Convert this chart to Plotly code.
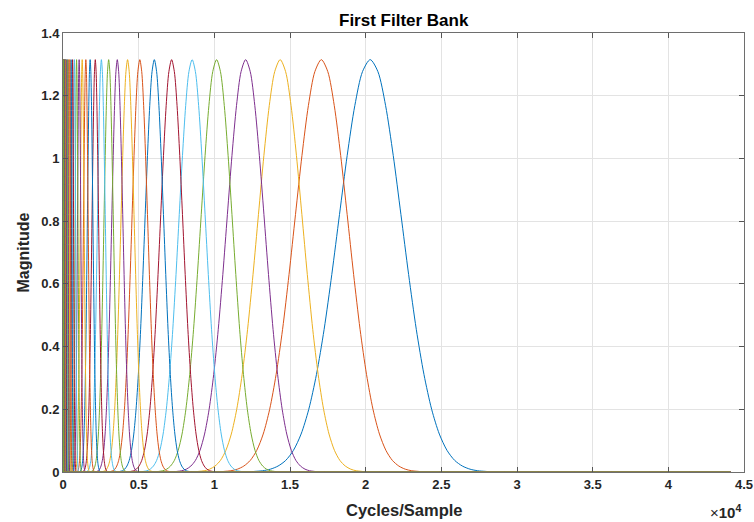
import plotly.graph_objects as go

# Center frequencies of the filters (read from the peaks), highest first
centers = [20300, 17070, 14350, 12070, 10150, 8535, 7177, 6035, 5075, 4267,
           3588, 3017, 2537, 2134, 1794, 1509, 1269, 1067, 897, 754,
           634, 533, 449, 377, 317, 267, 224, 189, 159, 133,
           112, 94, 79, 67, 56, 47, 40, 33, 28, 24]

# Filter shape read from the largest filter: frequency / center -> magnitude
profile_ratio = [0.550, 0.575, 0.600, 0.625, 0.650, 0.675, 0.700, 0.725, 0.750, 0.775, 0.800,
                 0.825, 0.850, 0.875, 0.900, 0.925, 0.950, 0.975, 1.000,
                 1.025, 1.050, 1.075, 1.100, 1.125, 1.150, 1.175, 1.200,
                 1.225, 1.250, 1.275, 1.300, 1.325, 1.350, 1.375, 1.400, 1.425, 1.450]
profile_mag = [0.000, 0.000, 0.000, 0.002, 0.004, 0.009, 0.019, 0.037, 0.069, 0.121, 0.200,
               0.311, 0.455, 0.630, 0.821, 1.009, 1.169, 1.277, 1.315,
               1.277, 1.169, 1.009, 0.821, 0.630, 0.455, 0.311, 0.200,
               0.121, 0.069, 0.037, 0.019, 0.009, 0.004, 0.002, 0.000, 0.000, 0.000]

freq_max = 44100

x_tick_vals = [0, 5000, 10000, 15000, 20000, 25000, 30000, 35000, 40000, 45000]
x_tick_text = ["0", "0.5", "1", "1.5", "2", "2.5", "3", "3.5", "4", "4.5"]
y_tick_vals = [0, 0.2, 0.4, 0.6, 0.8, 1.0, 1.2, 1.4]
y_tick_text = ["0", "0.2", "0.4", "0.6", "0.8", "1", "1.2", "1.4"]

colors = ['#0072BD', '#D95319', '#EDB120', '#7E2F8E', '#77AC30', '#4DBEEE', '#A2142F']

fig = go.Figure()
for i, c in enumerate(centers):
    xs = [0] + [r * c for r in profile_ratio] + [freq_max]
    ys = [0] + profile_mag + [0]
    fig.add_trace(go.Scatter(
        x=xs, y=ys, mode='lines',
        line=dict(color=colors[i % 7], width=1.0, shape='spline', smoothing=0.8),
        showlegend=False, hoverinfo='skip'))

font_main = "Liberation Sans, Arial, Helvetica, sans-serif"

axis_common = dict(
    showline=True, linecolor='#6e6e6e', linewidth=1, mirror='ticks',
    ticks='inside', ticklen=5, tickcolor='#555555', tickwidth=1,
    showgrid=True, gridcolor='#e3e3e3', gridwidth=1, zeroline=False,
    ticklabeloverflow='allow',
    tickfont=dict(family=font_main, size=13, color='#262626'),
)

fig.update_layout(
    width=754, height=522,
    margin=dict(l=63, r=10, t=33, b=50, autoexpand=False),
    paper_bgcolor='white', plot_bgcolor='white',
    xaxis=dict(range=[0, 45000], tickvals=x_tick_vals,
               ticktext=["<b>%s</b>" % t for t in x_tick_text], **axis_common),
    yaxis=dict(range=[0, 1.4], tickvals=y_tick_vals,
               ticktext=["<b>%s</b>" % t for t in y_tick_text], **axis_common),
    font=dict(family=font_main),
    annotations=[
        dict(text="<b>First Filter Bank</b>", xref='paper', yref='paper', x=0.5, y=1.0,
             xanchor='center', yanchor='middle', yshift=13, showarrow=False,
             font=dict(size=17, color='#000000', family=font_main)),
        dict(text="<b>Cycles/Sample</b>", xref='paper', yref='paper', x=0.5, y=0,
             xanchor='center', yanchor='middle', yshift=-38, showarrow=False,
             font=dict(size=16.5, color='#262626', family=font_main)),
        dict(text="<b>Magnitude</b>", xref='paper', yref='paper', x=0, y=0.5,
             xanchor='center', yanchor='middle', xshift=-40, textangle=-90, showarrow=False,
             font=dict(size=16, color='#262626', family=font_main)),
        dict(text="×<b>10<sup>4</sup></b>", xref='paper', yref='paper', x=1.0, y=0,
             xanchor='right', yanchor='middle', xshift=-1, yshift=-39, showarrow=False,
             font=dict(size=15, color='#262626', family=font_main)),
    ],
)

fig.write_html("out.html",
               config={'displayModeBar': False},
               post_script="document.body.style.margin='0';document.body.style.overflow='hidden';")
